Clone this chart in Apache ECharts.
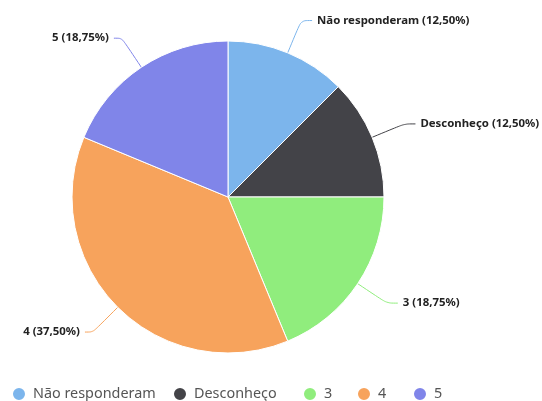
<!DOCTYPE html>
<html><head><meta charset="utf-8">
<script src="https://cdn.jsdelivr.net/npm/echarts@6/dist/echarts.min.js"></script>
<style>html,body{margin:0;padding:0;background:#fff}#c{width:542px;height:401px}</style>
</head><body><div id="c"></div>
<script>
const categories = ['Não responderam', 'Desconheço', '3', '4', '5'];
const values = [2, 2, 3, 6, 3];
const colors = ['#7cb5ec', '#434348', '#90ed7d', '#f7a35c', '#8085e9'];

const total = values.reduce((a, b) => a + b, 0);
// left offsets of the legend items (layout only)
const legendLefts = [6, 167, 297, 351, 407];
const chart = echarts.init(document.getElementById('c'));
chart.setOption({
  animation: false,
  color: colors,
  legend: categories.map((n, i) => ({
    top: 381,
    left: legendLefts[i],
    icon: 'circle',
    itemWidth: 14,
    itemHeight: 14,
    data: [n],
    textStyle: { fontFamily: 'Noto Sans', fontSize: 14.4, color: '#555', padding: [0, 0, 0, 2] }
  })),
  series: [{
    type: 'pie',
    center: [228, 197],
    radius: 156,
    startAngle: 90,
    clockwise: true,
    avoidLabelOverlap: false,
    itemStyle: { borderColor: '#fff', borderWidth: 1 },
    label: {
      show: true,
      position: 'outside',
      fontFamily: 'Noto Sans',
      fontWeight: 'bold',
      fontSize: 11.4,
      color: '#222',
      distanceToLabelLine: 5,
      formatter: p => p.name + ' (' + (p.value / total * 100).toFixed(2).replace('.', ',') + '%)'
    },
    labelLine: { show: true, length: 35, length2: 11, smooth: 0.3, lineStyle: { width: 1 } },
    emphasis: { disabled: true },
    data: categories.map((n, i) => ({
      name: n, value: values[i],
      labelLine: { length2: i >= 3 ? 8 : 11 }
    }))
  }]
});
</script></body></html>
